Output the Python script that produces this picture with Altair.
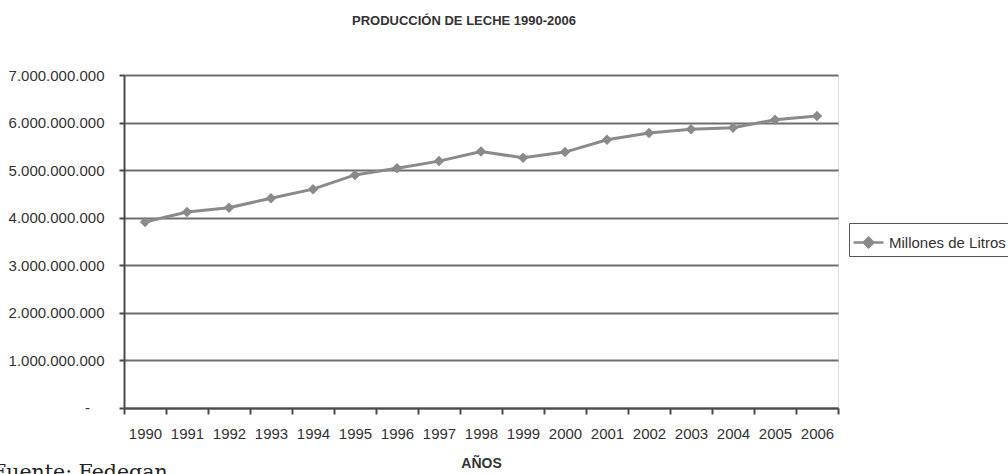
import altair as alt
import pandas as pd

# Milk production per year (litres)
years = ["1990", "1991", "1992", "1993", "1994", "1995", "1996", "1997", "1998",
         "1999", "2000", "2001", "2002", "2003", "2004", "2005", "2006"]
litros = [3.91e9, 4.12e9, 4.21e9, 4.41e9, 4.60e9, 4.90e9, 5.04e9, 5.19e9, 5.39e9,
          5.26e9, 5.38e9, 5.64e9, 5.78e9, 5.86e9, 5.89e9, 6.06e9, 6.14e9]
serie = "Millones de Litros"
fuente = ["Fuente: Fedegan"]
zero_label = ["-"]

df = pd.DataFrame({"anio": years, "valor": litros, "serie": serie})

FONT = "Liberation Sans"
GRAY = "#8a8a8a"
DARK = "#4a4a4a"
TEXT = "#333333"

x = alt.X(
    "anio:O",
    title="AÑOS",
    scale=alt.Scale(paddingInner=0, paddingOuter=0),
    axis=alt.Axis(
        labelAngle=0,
        labelFont=FONT,
        labelFontSize=15,
        labelColor=TEXT,
        labelPadding=12,
        tickBand="extent",
        tickSize=6,
        tickWidth=2,
        tickColor=DARK,
        domainColor=DARK,
        domainWidth=2,
        titleFont=FONT,
        titleFontSize=14,
        titleFontWeight="bold",
        titleColor=TEXT,
        titlePadding=15,
        grid=False,
    ),
)

yscale = alt.Scale(domain=[0, 7e9], nice=False)

y = alt.Y(
    "valor:Q",
    title=None,
    scale=yscale,
    axis=alt.Axis(
        values=[0, 1e9, 2e9, 3e9, 4e9, 5e9, 6e9, 7e9],
        # thousands grouped with dots; the zero label is drawn separately
        labelExpr="datum.value == 0 ? '' : replace(format(datum.value, ','), regexp(',', 'g'), '.')",
        labelFont=FONT,
        labelFontSize=15,
        labelColor=TEXT,
        labelPadding=15,
        tickSize=5,
        tickWidth=2,
        tickColor=DARK,
        domainColor=DARK,
        domainWidth=2,
        grid=True,
        gridColor="#6e6e6e",
        gridWidth=2,
    ),
)

color = alt.Color(
    "serie:N",
    scale=alt.Scale(range=[GRAY]),
    legend=alt.Legend(
        title=None,
        orient="none",
        legendX=725,
        legendY=148,
        symbolType="M-1,0H1M0,-0.32L0.32,0L0,0.32L-0.32,0Z",
        symbolSize=900,
        symbolStrokeWidth=2.5,
        symbolFillColor=GRAY,
        symbolStrokeColor=GRAY,
        labelFont=FONT,
        labelFontSize=15,
        labelColor=TEXT,
        labelOffset=4,
        strokeColor="#555555",
        padding=3,
    ),
)

line = alt.Chart(df).mark_line(strokeWidth=3).encode(x=x, y=y, color=color)

points = alt.Chart(df).mark_point(
    shape="diamond", filled=True, size=110, color=GRAY, opacity=1
).encode(x=x, y=y)

# accounting-style dash for the zero tick
zero = alt.Chart(pd.DataFrame({"v": [0], "t": zero_label})).mark_text(
    font=FONT, fontSize=15, align="right", baseline="middle", color=TEXT, clip=False
).encode(x=alt.value(-34), y=alt.Y("v:Q", scale=yscale), text="t:N")

note = alt.Chart(pd.DataFrame({"t": fuente})).mark_text(
    font="DejaVu Serif", fontSize=20.5, align="left", baseline="top",
    color="#222222", clip=False
).encode(x=alt.value(-132), y=alt.value(388), text="t:N")

chart = (
    alt.layer(line, points, zero, note)
    .properties(
        width=714,
        height=333,
        padding={"left": 124, "top": 75, "right": 170, "bottom": 66},
        autosize=alt.AutoSizeParams(type="none"),
        title=alt.Title(
            "PRODUCCIÓN DE LECHE 1990-2006",
            font=FONT,
            fontSize=13,
            fontWeight="bold",
            color=TEXT,
            anchor="middle",
            dx=-17,
            offset=40,
        ),
    )
    .configure_view(stroke="#555555", strokeWidth=2)
    .configure(background="white")
)

chart.save("out.html", embed_options={"renderer": "svg", "actions": False})
